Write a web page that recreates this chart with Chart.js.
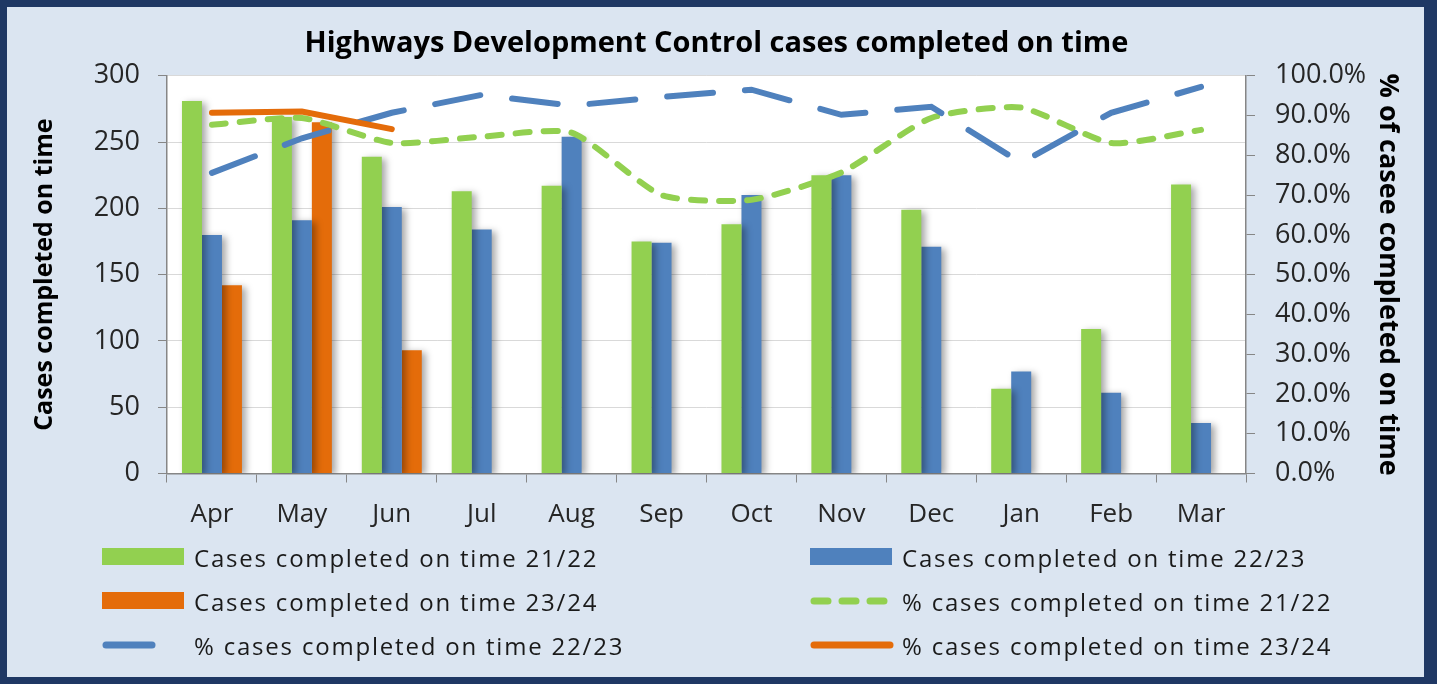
<!DOCTYPE html>
<html>
<head>
<meta charset="utf-8">
<script src="https://cdn.jsdelivr.net/npm/chart.js@4"></script>
<style>
  body { margin: 0; background: #ffffff; }
  #frame {
    position: absolute; left: 0; top: 0; width: 1437px; height: 684px;
    box-sizing: border-box; background: #dbe5f1;
    border: 7px solid #1f3864; border-right-width: 13px;
  }
  #chartBox { position: absolute; left: 0; top: 0; width: 1437px; height: 540px; }
  #legend { position: absolute; left: 0; top: 0; width: 1437px; height: 684px; pointer-events: none; }
  .item { position: absolute; height: 40px; display: flex; align-items: center; }
  .item canvas { width: 84px; height: 20px; margin-right: 8px; }
  .item span { font-family: "Open Sans", sans-serif; font-size: 24px; letter-spacing: 1.8px; color: #1a1a1a; white-space: nowrap; }
</style>
</head>
<body>
<div id="frame"></div>
<div id="chartBox"><canvas id="hdcChart"></canvas></div>
<div id="legend"></div>
<script>
var months = ['Apr', 'May', 'Jun', 'Jul', 'Aug', 'Sep', 'Oct', 'Nov', 'Dec', 'Jan', 'Feb', 'Mar'];
var cases2122 = [281, 269, 239, 213, 217, 175, 188, 225, 199, 64, 109, 218];
var cases2223 = [180, 191, 201, 184, 254, 174, 210, 225, 171, 77, 61, 38];
var cases2324 = [142, 265, 93, null, null, null, null, null, null, null, null, null];
var pct2122 = [87.7, 89.4, 83.1, 84.7, 85.7, 70.0, 68.8, 75.7, 89.4, 92.0, 83.1, 86.4];
var pct2223 = [75.6, 84.3, 90.7, 95.2, 92.5, 94.7, 96.5, 90.2, 92.2, 78.1, 90.7, 97.2];
var pct2324 = [90.7, 91.0, 86.6, null, null, null, null, null, null, null, null, null];

var green = '#92d050', blue = '#4f81bd', orange = '#e46c0a';
var tickFont = { family: 'Open Sans', size: 26 };

// white plot area
var plotBg = {
  id: 'plotBg',
  beforeDraw: function (chart) {
    var a = chart.chartArea, ctx = chart.ctx;
    ctx.save();
    ctx.fillStyle = '#ffffff';
    ctx.fillRect(a.left, a.top, a.right - a.left, a.bottom - a.top);
    ctx.restore();
  }
};

// soft shadow behind the bars
var barShadow = {
  id: 'barShadow',
  beforeDatasetDraw: function (chart, args) {
    if (chart.data.datasets[args.index].type !== 'bar') return;
    var ctx = chart.ctx;
    ctx.save();
    ctx.shadowColor = 'rgba(0,0,0,0.35)';
    ctx.shadowBlur = 7;
    ctx.shadowOffsetX = 4;
    ctx.shadowOffsetY = 2;
  },
  afterDatasetDraw: function (chart, args) {
    if (chart.data.datasets[args.index].type !== 'bar') return;
    chart.ctx.restore();
  }
};

var ctx = document.getElementById('hdcChart').getContext('2d');
var chart = new Chart(ctx, {
  type: 'bar',
  data: {
    labels: months,
    datasets: [
      { type: 'bar', label: 'Cases completed on time 21/22', data: cases2122, backgroundColor: green, yAxisID: 'y', order: 5 },
      { type: 'bar', label: 'Cases completed on time 22/23', data: cases2223, backgroundColor: blue, yAxisID: 'y', order: 5 },
      { type: 'bar', label: 'Cases completed on time 23/24', data: cases2324, backgroundColor: orange, yAxisID: 'y', order: 5 },
      { type: 'line', label: '% cases completed on time 21/22', data: pct2122, borderColor: green, backgroundColor: green,
        borderWidth: 6, borderDash: [14, 14], borderCapStyle: 'round', tension: 0.2, pointRadius: 0, yAxisID: 'y1', order: 3 },
      { type: 'line', label: '% cases completed on time 22/23', data: pct2223, borderColor: blue, backgroundColor: blue,
        borderWidth: 6, borderDash: [46, 32], borderCapStyle: 'round', tension: 0, pointRadius: 0, yAxisID: 'y1', order: 2 },
      { type: 'line', label: '% cases completed on time 23/24', data: pct2324, borderColor: orange, backgroundColor: orange,
        borderWidth: 6, borderCapStyle: 'round', tension: 0, pointRadius: 0, yAxisID: 'y1', order: 1 }
    ]
  },
  options: {
    responsive: true,
    maintainAspectRatio: false,
    animation: false,
    categoryPercentage: 0.667,
    barPercentage: 1.0,
    layout: { padding: { left: 27, right: 31, top: 0, bottom: 0 } },
    plugins: {
      legend: { display: false },
      tooltip: { enabled: false },
      title: {
        display: true,
        text: 'Highways Development Control cases completed on time',
        color: '#000000',
        font: { family: 'Open Sans', size: 29, weight: 'bold' },
        padding: { top: 26, bottom: 15 }
      }
    },
    scales: {
      x: {
        grid: { offset: true, drawOnChartArea: false, tickLength: 9, tickColor: '#868686' },
        border: { color: '#868686', width: 1.5 },
        ticks: { font: tickFont, color: '#262626', padding: 16 },
        afterFit: function (s) { s.height = 66.5; }
      },
      y: {
        position: 'left',
        min: 0, max: 300,
        ticks: { stepSize: 50, font: { family: 'Open Sans', size: 27 }, color: '#262626', padding: 18 },
        grid: { color: '#d9d9d9', tickColor: '#868686', tickLength: 9 },
        border: { color: '#868686', width: 1.5 },
        title: { display: true, text: 'Cases completed on time', color: '#000000',
          font: { family: 'Open Sans', size: 25, weight: 'bold' }, padding: { top: 3, bottom: 4 } },
        afterFit: function (s) { s.width = 140; }
      },
      y1: {
        position: 'right',
        min: 0, max: 100,
        ticks: { stepSize: 10, font: { family: 'Open Sans', size: 27 }, color: '#262626', padding: 20,
          callback: function (v) { return v.toFixed(1) + '%'; } },
        grid: { drawOnChartArea: false, tickColor: '#868686', tickLength: 9 },
        border: { color: '#868686', width: 1.5 },
        title: { display: true, text: '% of casee completed on time', color: '#000000',
          font: { family: 'Open Sans', size: 27, weight: 'bold' }, padding: { top: 2, bottom: 4 } },
        afterFit: function (s) { s.width = 160; }
      }
    }
  },
  plugins: [plotBg, barShadow]
});

// two-column legend underneath, built from the datasets
var legendCols = [102, 810];
var legendRows = [557, 601, 645];
var legendEl = document.getElementById('legend');
chart.data.datasets.forEach(function (ds, i) {
  var item = document.createElement('div');
  item.className = 'item';
  item.style.left = legendCols[i % 2] + 'px';
  item.style.top = (legendRows[Math.floor(i / 2)] - 20) + 'px';
  var sw = document.createElement('canvas');
  sw.width = 84; sw.height = 20;
  var c = sw.getContext('2d');
  if (ds.type === 'bar') {
    c.fillStyle = ds.backgroundColor;
    c.fillRect(0, 1, 82, 17);
  } else {
    c.strokeStyle = ds.borderColor;
    c.lineWidth = 7;
    c.lineCap = 'round';
    c.setLineDash(ds.borderDash || []);
    c.beginPath();
    c.moveTo(4, 10);
    c.lineTo(80, 10);
    c.stroke();
  }
  var txt = document.createElement('span');
  txt.textContent = ds.label;
  item.appendChild(sw);
  item.appendChild(txt);
  legendEl.appendChild(item);
});
</script>
</body>
</html>
